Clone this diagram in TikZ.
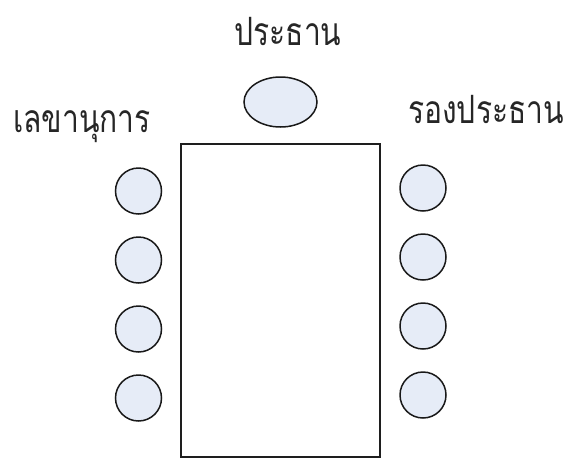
\documentclass[tikz,border=0pt]{standalone}
\usepackage{fontspec}
\newfontfamily\thaifont[Script=Thai]{Loma}
\usetikzlibrary{positioning,shapes.geometric}
\definecolor{seatfill}{RGB}{230,236,247}
\definecolor{deskline}{RGB}{30,30,30}
\newcommand{\tallname}[1]{\scalebox{1}[1.3]{#1}}

\begin{document}
\begin{tikzpicture}[
    x=1pt, y=1pt,
    node distance=23pt,
    desk/.style={draw=deskline, line width=2pt, minimum width=199pt, minimum height=313pt, inner sep=0pt},
    chair/.style={draw=black!90, line width=1.5pt, fill=seatfill, circle, minimum size=46pt, inner sep=0pt, outer sep=0pt},
    headseat/.style={draw=black!90, line width=1.5pt, fill=seatfill, ellipse, minimum width=73pt, minimum height=50pt, inner sep=0pt},
    seatlabel/.style={font=\thaifont\fontsize{30}{32}\selectfont, inner sep=0pt, text=black!85}
]
\useasboundingbox (0,0) rectangle (572,-459);

\node[desk] (desk) at (280,-300) {};
\node[headseat] (head) at (280.5,-102) {};

% left side
\node[chair] (l1) at (138.5,-191) {};
\node[chair, below=of l1] (l2) {};
\node[chair, below=of l2] (l3) {};
\node[chair, below=of l3] (l4) {};

% right side
\node[chair] (r1) at (423,-188) {};
\node[chair, below=of r1] (r2) {};
\node[chair, below=of r2] (r3) {};
\node[chair, below=of r3] (r4) {};

\node[seatlabel, anchor=base] (headname) at (288,-45) {\tallname{ประธาน}};
\node[seatlabel, anchor=base west] (leftname) at (13,-132) {\tallname{เลขานุการ}};
\node[seatlabel, anchor=base west] (rightname) at (408,-123) {\tallname{รองประธาน}};
\end{tikzpicture}
\end{document}
